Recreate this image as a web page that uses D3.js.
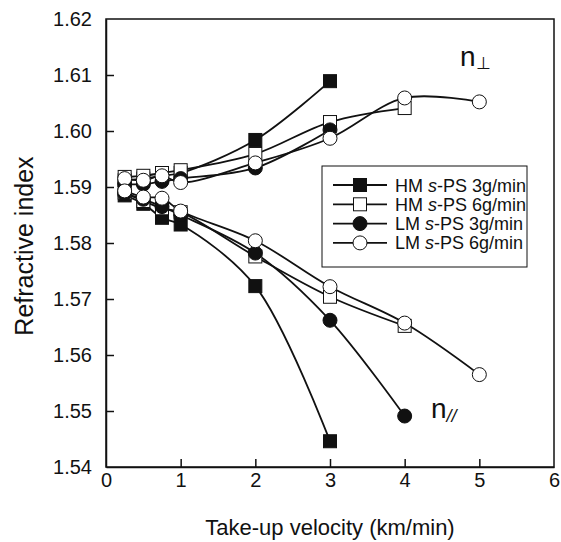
<!DOCTYPE html>
<html>
<head>
<meta charset="utf-8">
<script src="https://cdn.jsdelivr.net/npm/d3@7"></script>
<style>
  body { margin: 0; background: #fff; }
  text { font-family: "Liberation Sans", Arial, sans-serif; fill: #111; }
</style>
</head>
<body>
<div id="chart"></div>
<script>
// take-up velocity (km/min)
var speeds = [0.25, 0.5, 0.75, 1, 2, 3, 4, 5];

// refractive index, perpendicular (upper) and parallel (lower)
var hm3Perp = [1.5912, 1.5915, 1.5920, 1.5925, 1.5984, 1.6089];
var hm3Par  = [1.5885, 1.5870, 1.5845, 1.5833, 1.5723, 1.5446];
var hm6Perp = [1.5918, 1.5920, 1.5925, 1.5930, 1.5959, 1.6016, 1.6041];
var hm6Par  = [1.5890, 1.5875, 1.5862, 1.5855, 1.5776, 1.5704, 1.5652];
var lm3Perp = [1.5905, 1.5905, 1.5910, 1.5915, 1.5934, 1.6002];
var lm3Par  = [1.5888, 1.5878, 1.5865, 1.5850, 1.5782, 1.5662, 1.5491];
var lm6Perp = [1.5915, 1.5912, 1.5920, 1.5908, 1.5943, 1.5987, 1.6059, 1.6052];
var lm6Par  = [1.5893, 1.5882, 1.5880, 1.5857, 1.5804, 1.5722, 1.5657, 1.5565];

var legendNames = ["HM s-PS 3g/min", "HM s-PS 6g/min", "LM s-PS 3g/min", "LM s-PS 6g/min"];
var xTicks = [0, 1, 2, 3, 4, 5, 6];
var yTicks = [1.54, 1.55, 1.56, 1.57, 1.58, 1.59, 1.60, 1.61, 1.62];

var series = [
  { name: legendNames[0], shape: "square", filled: true,  perp: hm3Perp, par: hm3Par },
  { name: legendNames[1], shape: "square", filled: false, perp: hm6Perp, par: hm6Par },
  { name: legendNames[2], shape: "circle", filled: true,  perp: lm3Perp, par: lm3Par },
  { name: legendNames[3], shape: "circle", filled: false, perp: lm6Perp, par: lm6Par }
];

var w = 561, h = 542;
var pLeft = 106, pRight = 554, pTop = 19, pBottom = 467;

var svg = d3.select('#chart').append('svg')
  .attr('width', w)
  .attr('height', h);

var x = d3.scaleLinear().domain([0, 6]).range([pLeft, pRight]);
var y = d3.scaleLinear().domain([1.54, 1.62]).range([pBottom, pTop]);

// frame
svg.append('rect')
  .attr('x', pLeft).attr('y', pTop)
  .attr('width', pRight - pLeft).attr('height', pBottom - pTop)
  .attr('fill', 'none').attr('stroke', '#111').attr('stroke-width', 1.5);

// axes with inward ticks
var xAxis = svg.append('g')
  .attr('transform', 'translate(0,' + pBottom + ')')
  .call(d3.axisBottom(x).tickValues(xTicks).tickSizeInner(-8).tickSizeOuter(0).tickPadding(6).tickFormat(d3.format('d')));
var yAxis = svg.append('g')
  .attr('transform', 'translate(' + pLeft + ',0)')
  .call(d3.axisLeft(y).tickValues(yTicks).tickSizeInner(-8).tickSizeOuter(0).tickPadding(14).tickFormat(d3.format('.2f')));

[xAxis, yAxis].forEach(function(a) {
  a.attr('font-size', 20).attr('font-family', '"Liberation Sans", Arial, sans-serif');
  a.select('.domain').attr('stroke', '#111').attr('stroke-width', 1.5);
  a.selectAll('.tick line').attr('stroke', '#111').attr('stroke-width', 1.5);
  a.selectAll('.tick text').attr('fill', '#111');
});
// remove end ticks that would sit on the frame
xAxis.selectAll('.tick line').filter(function(d) { return d == 0 || d == 6; }).remove();
yAxis.selectAll('.tick line').filter(function(d) { return d == 1.54 || d == 1.62; }).remove();

// axis titles
svg.append('text')
  .attr('x', 330).attr('y', 535)
  .attr('text-anchor', 'middle')
  .attr('font-size', 22)
  .text('Take-up velocity (km/min)');
svg.append('text')
  .attr('transform', 'translate(33,246) rotate(-90)')
  .attr('text-anchor', 'middle')
  .attr('font-size', 25)
  .text('Refractive index');

var line = d3.line()
  .x(function(d) { return x(d[0]); })
  .y(function(d) { return y(d[1]); })
  .curve(d3.curveCatmullRom.alpha(0.5));

function pts(vals) {
  return vals.map(function(v, i) { return [speeds[i], v]; });
}

// lines first
series.forEach(function(s) {
  [s.perp, s.par].forEach(function(vals) {
    svg.append('path')
      .datum(pts(vals))
      .attr('d', line)
      .attr('fill', 'none')
      .attr('stroke', '#111')
      .attr('stroke-width', 1.8);
  });
});

function marker(g, shape, filled, cx, cy) {
  if (shape == 'square') {
    g.append('rect')
      .attr('x', cx - 6.5).attr('y', cy - 6.5)
      .attr('width', 13).attr('height', 13)
      .attr('fill', filled ? '#111' : '#fff')
      .attr('stroke', '#111').attr('stroke-width', 1);
  } else {
    g.append('circle')
      .attr('cx', cx).attr('cy', cy).attr('r', 7)
      .attr('fill', filled ? '#111' : '#fff')
      .attr('stroke', '#111').attr('stroke-width', 1);
  }
}

// markers
series.forEach(function(s) {
  [s.perp, s.par].forEach(function(vals) {
    pts(vals).forEach(function(p) {
      marker(svg, s.shape, s.filled, x(p[0]), y(p[1]));
    });
  });
});

// legend
var lg = svg.append('g');
lg.append('rect')
  .attr('x', 322).attr('y', 166)
  .attr('width', 205).attr('height', 101)
  .attr('fill', '#fff').attr('stroke', '#111').attr('stroke-width', 1);

series.forEach(function(s, i) {
  var ly = 185 + i * 19.3;
  lg.append('line')
    .attr('x1', 333).attr('x2', 387)
    .attr('y1', ly).attr('y2', ly)
    .attr('stroke', '#111').attr('stroke-width', 1.8);
  marker(lg, s.shape, s.filled, 360, ly);
  var parts = s.name.split(' ');
  var t = lg.append('text')
    .attr('x', 395).attr('y', ly + 6.5)
    .attr('font-size', 18);
  t.append('tspan').text(parts[0] + ' ');
  t.append('tspan').attr('font-style', 'italic').text('s');
  t.append('tspan').text(parts[1].slice(1) + ' ' + parts[2]);
});

// n labels
var nPerp = svg.append('text').attr('x', 460).attr('y', 66).attr('font-size', 28);
nPerp.append('tspan').text('n');
nPerp.append('tspan').attr('font-size', 17).attr('dy', 3).text('\u22A5');

var nPar = svg.append('text').attr('x', 431).attr('y', 418).attr('font-size', 28);
nPar.append('tspan').text('n');
nPar.append('tspan').attr('font-size', 18).attr('dy', 4).attr('font-style', 'italic').text('//');
</script>
</body>
</html>
